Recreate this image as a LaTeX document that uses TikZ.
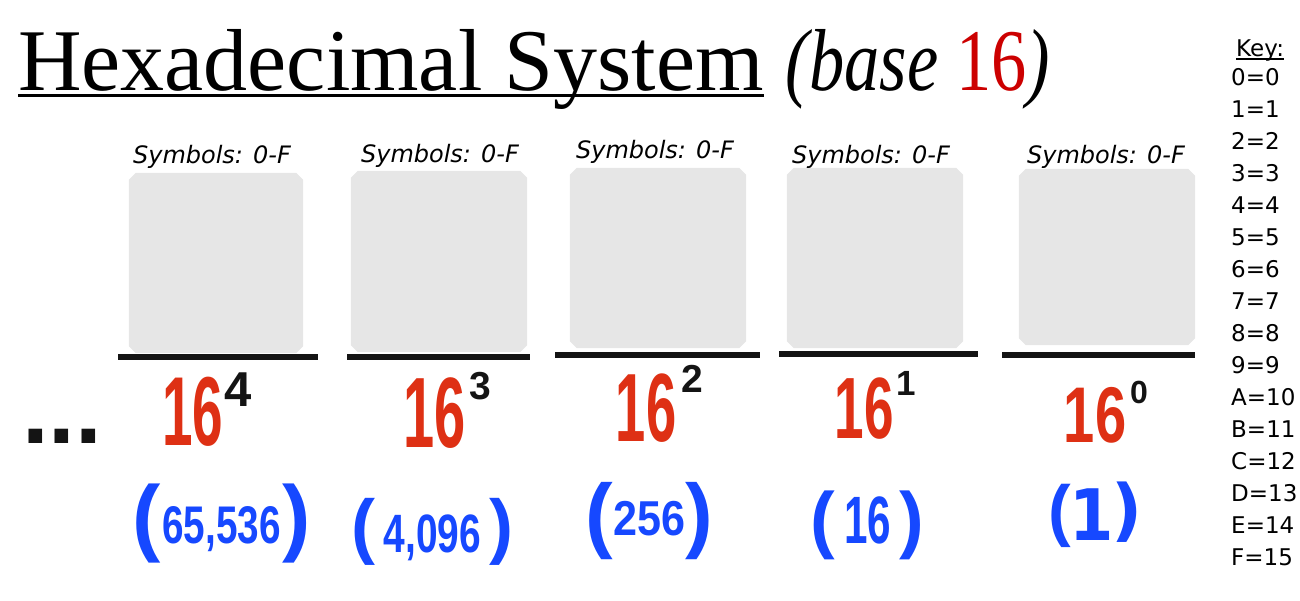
\documentclass[tikz,border=0pt]{standalone}
\usepackage{fontspec}
\usepackage{graphicx}
\setmainfont{Liberation Serif}
\newfontfamily\handfont{Liberation Sans}
\newfontfamily\keyfont{DejaVu Sans}
\definecolor{boxgray}{HTML}{E6E6E6}
\definecolor{inkblack}{HTML}{141414}
\definecolor{titlered}{RGB}{204,0,0}
\definecolor{redhand}{RGB}{222,48,20}
\definecolor{bluehand}{RGB}{22,72,255}
\newcommand{\blab}[4]{\raisebox{#2}{\fontsize{#1}{#1}\selectfont(}\hspace{#3}#4\hspace{#3}\raisebox{#2}{\fontsize{#1}{#1}\selectfont)}}
\begin{document}
\begin{tikzpicture}[x=1pt,y=-1pt,
  boxn/.style={draw=none,inner sep=0pt},
  symtext/.style={inner sep=0pt,anchor=base,font=\keyfont\itshape\fontsize{24}{24}\selectfont},
  keytext/.style={inner sep=0pt,anchor=base west,font=\keyfont\fontsize{23}{23}\selectfont},
  baseline rule/.style={line width=6pt,color=inkblack},
  powbase/.style={inner sep=0pt,anchor=center,text=redhand},
  powexp/.style={inner sep=0pt,anchor=center,text=inkblack},
  valtext/.style={inner sep=0pt,anchor=base,text=bluehand}]
\useasboundingbox (0,0) rectangle (1300,600);

% title
\node[inner sep=0pt,anchor=base west,font=\fontsize{88}{88}\selectfont] (title) at (18,90) {Hexadecimal System};
\draw[line width=3pt] ([yshift=-5pt]title.base west) -- ([yshift=-5pt]title.base east);
\node[inner sep=0pt,anchor=base west,font=\fontsize{88}{88}\selectfont] (tbase) at ([xshift=22pt]title.base east)
  {\scalebox{0.8}[1]{\itshape(base \textcolor{titlered}{\upshape 16})}};

% key
\node[keytext] (keyhead) at (1236,56) {Key:};
\draw[line width=2pt] ([yshift=-3pt]keyhead.base west) -- ([yshift=-3pt]keyhead.base east);
\foreach \t [count=\i from 0] in {0=0,1=1,2=2,3=3,4=4,5=5,6=6,7=7,8=8,9=9,A=10,B=11,C=12,D=13,E=14,F=15}
  \node[keytext] (k\i) at (1231,{85.5+32*\i}) {\t};

% boxes
\node[boxn,minimum width=174pt,minimum height=180pt] (b1) at (216,263) {};
\node[boxn,minimum width=176pt,minimum height=181pt] (b2) at (439,261.5) {};
\node[boxn,minimum width=176pt,minimum height=180pt] (b3) at (658,258) {};
\node[boxn,minimum width=176pt,minimum height=180pt] (b4) at (875,258) {};
\node[boxn,minimum width=176pt,minimum height=176pt] (b5) at (1107,257) {};
\foreach \i in {1,...,5}
  \fill[boxgray] ([xshift=7pt]b\i.north west) -- ([xshift=-7pt]b\i.north east) -- ([yshift=-7pt]b\i.north east)
    -- ([yshift=7pt]b\i.south east) -- ([xshift=-7pt]b\i.south east) -- ([xshift=7pt]b\i.south west)
    -- ([yshift=7pt]b\i.south west) -- ([yshift=-7pt]b\i.north west) -- cycle;

% labels above boxes
\node[symtext] (s1) at (212,163) {Symbols: 0-F};
\node[symtext] (s2) at (440,162) {Symbols: 0-F};
\node[symtext] (s3) at (655,158) {Symbols: 0-F};
\node[symtext] (s4) at (871,163) {Symbols: 0-F};
\node[symtext] (s5) at (1106,163) {Symbols: 0-F};

% rules under boxes
\coordinate (l1a) at (118,357); \coordinate (l1b) at (318,357);
\coordinate (l2a) at (347,357); \coordinate (l2b) at (530,357);
\coordinate (l3a) at (555,355); \coordinate (l3b) at (760,355);
\coordinate (l4a) at (779,354); \coordinate (l4b) at (978,354);
\coordinate (l5a) at (1002,355); \coordinate (l5b) at (1195,355);
\foreach \i in {1,...,5} \draw[baseline rule] (l\i a) -- (l\i b);

% ellipsis
\node[inner sep=0pt,anchor=base west,text=inkblack,font=\handfont\bfseries\fontsize{96}{96}\selectfont] (dots) at (22,443) {...};

% powers
\node[powbase,font=\handfont\bfseries\fontsize{98}{98}\selectfont] (p4) at (193,412) {\scalebox{0.56}[1]{16}};
\node[powbase,font=\handfont\bfseries\fontsize{100}{100}\selectfont] (p3) at (435,413) {\scalebox{0.56}[1]{16}};
\node[powbase,font=\handfont\bfseries\fontsize{97}{97}\selectfont] (p2) at (646,408) {\scalebox{0.56}[1]{16}};
\node[powbase,font=\handfont\bfseries\fontsize{87}{87}\selectfont] (p1) at (864,409) {\scalebox{0.61}[1]{16}};
\node[powbase,font=\handfont\bfseries\fontsize{79}{79}\selectfont] (p0) at (1095,415) {\scalebox{0.71}[1]{16}};

\node[powexp,font=\handfont\bfseries\fontsize{49}{49}\selectfont] (e4) at (238,390) {4};
\node[powexp,font=\handfont\bfseries\fontsize{39}{39}\selectfont] (e3) at (480,386) {3};
\node[powexp,font=\handfont\bfseries\fontsize{39}{39}\selectfont] (e2) at (692,379) {2};
\node[powexp,font=\handfont\bfseries\fontsize{35}{35}\selectfont] (e1) at (906,383) {1};
\node[powexp,font=\handfont\bfseries\fontsize{32}{32}\selectfont] (e0) at (1139,392) {0};

% values
\node[valtext,font=\handfont\bfseries] (v4) at (221.5,543)
  {\blab{85}{-2pt}{2pt}{\fontsize{53}{53}\selectfont\scalebox{0.73}[1]{65,536}}};
\node[valtext,font=\handfont\bfseries] (v3) at (432.5,552)
  {\blab{72}{2pt}{8pt}{\fontsize{54}{54}\selectfont\scalebox{0.72}[1]{4,096}}};
\node[valtext,font=\handfont\bfseries] (v2) at (649.5,535)
  {\blab{83}{-7pt}{0pt}{\fontsize{49}{49}\selectfont\scalebox{0.88}[1]{256}}};
\node[valtext,font=\handfont\bfseries] (v1) at (867.5,543)
  {\blab{74}{-1pt}{9pt}{\fontsize{67}{67}\selectfont\scalebox{0.63}[1]{16}}};
\node[valtext,font=\handfont\bfseries] (v0) at (1095.5,540)
  {\blab{68}{7pt}{-2pt}{\keyfont\bfseries\fontsize{71}{71}\selectfont\scalebox{0.9}[1]{1}}};
\end{tikzpicture}
\end{document}
